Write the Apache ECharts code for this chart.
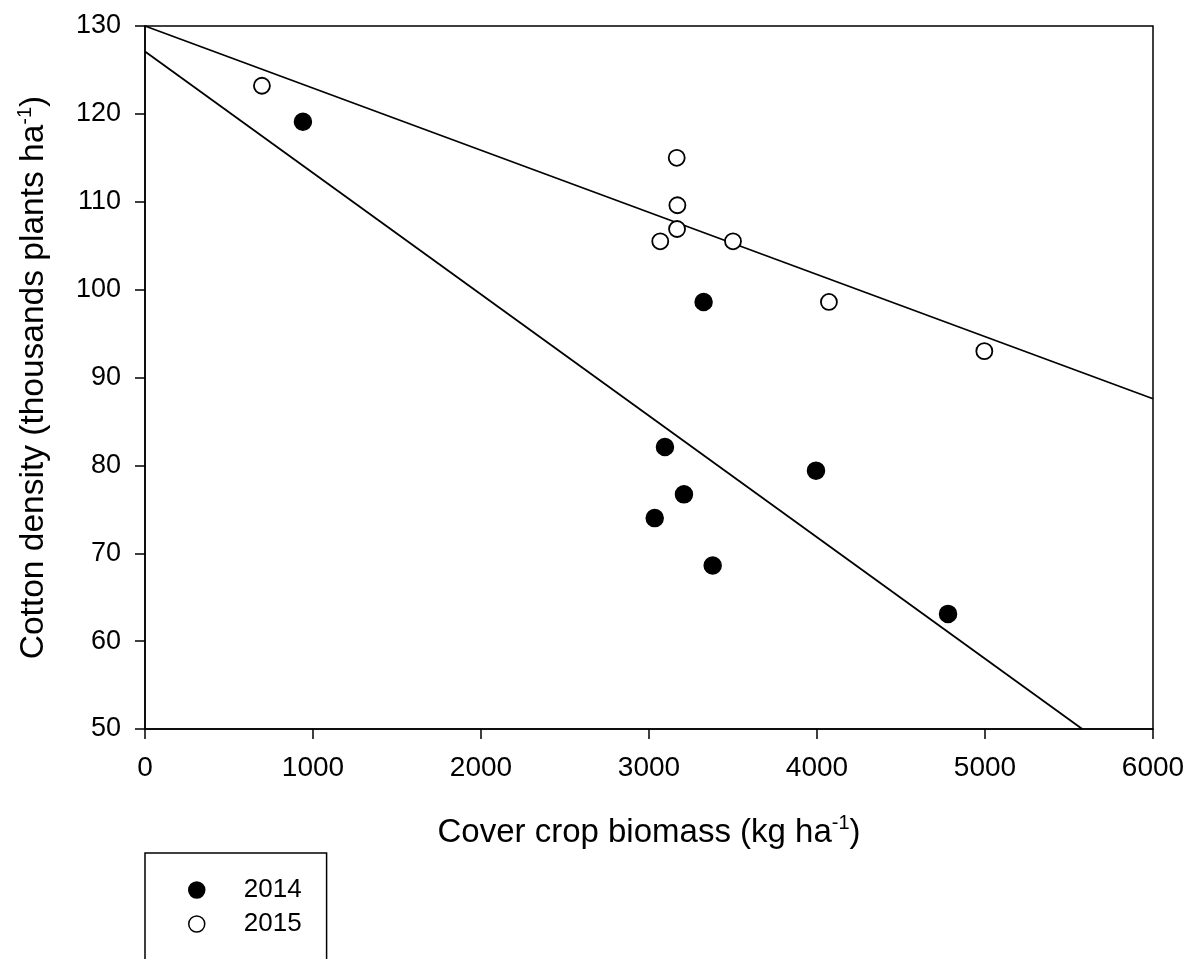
<!DOCTYPE html>
<html>
<head>
<meta charset="utf-8">
<script src="https://cdn.jsdelivr.net/npm/echarts@6/dist/echarts.min.js"></script>
<style>
html,body{margin:0;padding:0;background:#fff;}
#chart{width:1189px;height:959px;}
</style>
</head>
<body>
<div id="chart"></div>
<script>
// Data
var seriesNames = ['2014', '2015'];
var x2014 = [940, 3325, 3095, 3208, 3034, 3379, 3994, 4780];
var y2014 = [119.1, 98.6, 82.1, 76.7, 74.0, 68.6, 79.4, 63.1];
var x2015 = [696, 3165, 3169, 3167, 3067, 3500, 4071, 4996];
var y2015 = [123.2, 115.0, 109.6, 106.9, 105.5, 105.5, 98.6, 93.0];
// Fitted regression lines (intercept, slope)
var fit2014 = [127.1, -0.01382];
var fit2015 = [130.0, -0.00707];
var xTicks = [0, 1000, 2000, 3000, 4000, 5000, 6000];
var yTicks = [50, 60, 70, 80, 90, 100, 110, 120, 130];

var xMin = xTicks[0], xMax = xTicks[xTicks.length - 1];
var yMin = yTicks[0], yMax = yTicks[yTicks.length - 1];

function pairs(xs, ys) { return xs.map(function (x, i) { return [x, ys[i]]; }); }
function fitLine(fit) {
  var a = fit[0], b = fit[1];
  var xEnd = xMax;
  var yEnd = a + b * xEnd;
  if (yEnd < yMin) { xEnd = (yMin - a) / b; yEnd = yMin; }
  return [[xMin, a], [xEnd, yEnd]];
}

var FONT = 'Liberation Sans, Arial, Helvetica, sans-serif';
var chart = echarts.init(document.getElementById('chart'));
chart.setOption({
  backgroundColor: '#fff',
  animation: false,
  textStyle: { fontFamily: FONT, color: '#000' },
  grid: { left: 145, top: 26, right: 36, bottom: 230, show: true, borderColor: '#000', borderWidth: 1.5, containLabel: false },
  legend: {
    orient: 'vertical', left: 145, top: 853, height: 300,
    data: [
      { name: seriesNames[0], icon: 'circle', itemStyle: { color: '#000', borderColor: '#000', borderWidth: 1.5 } },
      { name: seriesNames[1], icon: 'circle', itemStyle: { color: '#fff', borderColor: '#000', borderWidth: 1.5 } }
    ],
    itemWidth: 16, itemHeight: 16, itemGap: 8,
    padding: [24, 25, 80, 43],
    borderColor: '#000', borderWidth: 1.5,
    textStyle: { fontFamily: FONT, fontSize: 26, color: '#000', padding: [0, 0, 0, 34], lineHeight: 26 }
  },
  xAxis: {
    type: 'value', min: xMin, max: xMax, interval: 1000,
    name: '{m|Cover crop biomass (kg ha}{s|-1}{m|)}',
    nameLocation: 'middle', nameGap: 84,
    nameTextStyle: { rich: {
      m: { fontFamily: FONT, fontSize: 33, color: '#000', lineHeight: 36, verticalAlign: 'bottom' },
      s: { fontFamily: FONT, fontSize: 20, color: '#000', lineHeight: 36, verticalAlign: 'top', padding: [0, 0, 14, 0] }
    } },
    axisLine: { lineStyle: { color: '#000', width: 1.5 } },
    axisTick: { show: true, inside: false, length: 10, lineStyle: { color: '#000', width: 1.5 } },
    axisLabel: { fontFamily: FONT, fontSize: 28, color: '#000', margin: 25, formatter: function (v) { return String(v); } },
    splitLine: { show: false }
  },
  yAxis: {
    type: 'value', min: yMin, max: yMax, interval: 10,
    name: '{m|Cotton density (thousands plants ha}{s|-1}{m|)}',
    nameLocation: 'middle', nameGap: 94, nameRotate: 90,
    nameTextStyle: { rich: {
      m: { fontFamily: FONT, fontSize: 33.5, color: '#000', lineHeight: 36, verticalAlign: 'bottom' },
      s: { fontFamily: FONT, fontSize: 20, color: '#000', lineHeight: 36, verticalAlign: 'top', padding: [0, 0, 14, 0] }
    } },
    axisLine: { lineStyle: { color: '#000', width: 1.5 } },
    axisTick: { show: true, inside: false, length: 10, lineStyle: { color: '#000', width: 1.5 } },
    axisLabel: { fontFamily: FONT, fontSize: 27, color: '#000', margin: 24, formatter: function (v) { return String(v); } },
    splitLine: { show: false }
  },
  series: [
    { name: seriesNames[0] + ' fit', type: 'line', data: fitLine(fit2014), showSymbol: false, symbol: 'none',
      lineStyle: { color: '#000', width: 1.8 }, z: 2, silent: true },
    { name: seriesNames[1] + ' fit', type: 'line', data: fitLine(fit2015), showSymbol: false, symbol: 'none',
      lineStyle: { color: '#000', width: 1.8 }, z: 2, silent: true },
    { name: seriesNames[0], type: 'scatter', data: pairs(x2014, y2014), symbol: 'circle', symbolSize: 17,
      itemStyle: { color: '#000', borderColor: '#000', borderWidth: 1.5, opacity: 1 }, z: 5 },
    { name: seriesNames[1], type: 'scatter', data: pairs(x2015, y2015), symbol: 'circle', symbolSize: 16,
      itemStyle: { color: '#fff', borderColor: '#000', borderWidth: 1.8, opacity: 1 }, z: 5 }
  ]
});
</script>
</body>
</html>
